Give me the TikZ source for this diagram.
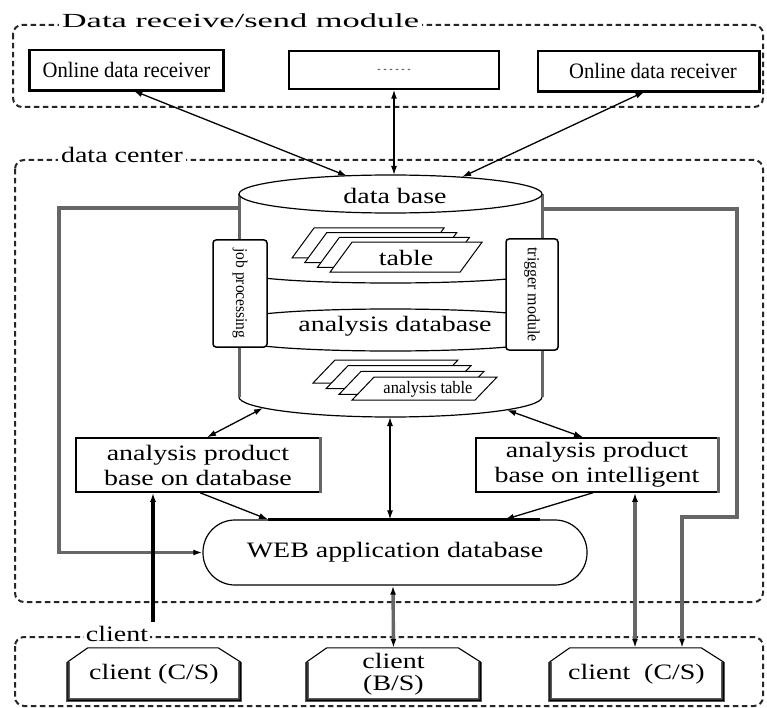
\documentclass[tikz,border=0pt]{standalone}
\usepackage{graphicx}
\usepackage{fontspec}
\setmainfont{Liberation Serif}
\newfontfamily\fmain[FakeStretch=1.27]{Liberation Serif}
\newfontfamily\fnar[FakeStretch=0.94]{Liberation Serif}
\usetikzlibrary{arrows.meta}
\newcommand{\chamf}[1]{%
  \draw[black!65, line width=3.5pt] ([yshift=-14pt]#1.north west) -- (#1.south west) -- (#1.south east) -- ([yshift=-14pt]#1.north east);
  \draw[line width=1.1pt] (#1.south west) -- ([yshift=-14pt]#1.north west) -- ([xshift=20pt]#1.north west) -- ([xshift=-22pt]#1.north east) -- ([yshift=-14pt]#1.north east) -- (#1.south east) -- cycle;}
\begin{document}
\begin{tikzpicture}[x=1pt,y=-1pt,
  >={Latex[length=9pt,width=6pt,color=black]},
  lab/.style={font=\fmain\fontsize{22}{25}\selectfont, align=center},
  dashbox/.style={draw=black!85, line width=2pt, dash pattern=on 5.5pt off 3.5pt, rounded corners=9pt},
  tbox/.style={draw, line width=1.5pt, fill=white, inner sep=0pt},
  arr/.style={line width=1.3pt, <->},
  arr1/.style={line width=1.3pt, ->},
  gline/.style={draw=black!60, line width=3.4pt},
  sheet/.style={draw, fill=white, line width=1pt}
]
\useasboundingbox (0,0) rectangle (767,708);

% frames
\draw[dashbox] (13,25) rectangle (763,107);
\draw[dashbox] (15,160) rectangle (763,602);
\draw[dashbox] (15,637) rectangle (763,706);
\node[fill=white, inner sep=3pt, anchor=base] (title) at (240.5,28) {\scalebox{1.72}[1]{\fontsize{20}{24}\selectfont Data receive/send module}};
\node[lab, fill=white, inner sep=3pt, anchor=base] (dc) at (122,163) {data center};
\node[lab, fill=white, inner xsep=2pt, inner ysep=1pt, anchor=base] (cl) at (117,641) {client};

% top boxes
\node[tbox, minimum width=193pt, minimum height=40pt, font=\fnar\fontsize{22}{25}\selectfont] (r1) at (126.5,70) {Online data receiver};
\node[tbox, minimum width=210pt, minimum height=38pt, text=black!60] (r2) at (394,70) {\scalebox{2}[1]{\fontsize{12}{14}\selectfont ......}};
\node[tbox, minimum width=221pt, minimum height=40pt, font=\fnar\fontsize{22}{25}\selectfont] (r3) at (648.5,71) {\hspace{9pt}Online data receiver};
\draw[line width=3pt] (r1.north west) -- (r1.south west) -- (r1.south east) -- (r1.north east);
\draw[line width=2.5pt] (r3.south west) -- (r3.south east) -- (r3.north east);

% cylinder
\coordinate (cylc) at (390.5,194);
\fill[white] (239,194) -- (239,397) arc[start angle=180,end angle=360,x radius=151.5pt,y radius=20pt] -- (542,194) -- cycle;
\draw[line width=1.2pt] (239,397) arc[start angle=180,end angle=360,x radius=151.5pt,y radius=20pt];
\draw[gline, line width=3pt] (239,194) -- (239,397);
\draw[gline, line width=3pt] (542,194) -- (542,397);
\draw[line width=1.2pt, fill=white] (cylc) ellipse [x radius=151.5pt, y radius=19pt];
\node[lab] (db) at (395,196) {data base};

% layers
\draw[line width=1.2pt] (239,272) arc[start angle=180,end angle=360,x radius=151.5pt,y radius=11pt];
\draw[line width=1.2pt] (239,320) arc[start angle=180,end angle=0,x radius=151.5pt,y radius=11pt];
\draw[line width=1.2pt] (239,340) arc[start angle=180,end angle=360,x radius=151.5pt,y radius=11pt];
\node[lab] (adb) at (395,326) {analysis database};

% table sheets
\foreach \i in {0,...,3}
  \draw[sheet] ({292+12.7*\i},{258+4.7*\i}) -- ++(130,0) -- ++(22,-30) -- ++(-130,0) -- cycle;
\node[lab] (tbl) at (406,258) {table};
\foreach \i in {0,...,3}
  \draw[sheet] ({313+13*\i},{383+5.7*\i}) -- ++(123,0) -- ++(22,-23) -- ++(-123,0) -- cycle;
\node[font=\fnar\fontsize{17.5}{20}\selectfont] (atbl) at (428,389) {analysis table};

% side boxes
\node[tbox, rounded corners=3pt, rotate=-90, minimum width=107pt, minimum height=54pt, font=\fnar\fontsize{16.5}{18}\selectfont] (jp) at (240,293.5) {job processing};
\node[tbox, rounded corners=3pt, rotate=-90, minimum width=111pt, minimum height=52pt, font=\fnar\fontsize{17}{19}\selectfont] (tm) at (532,294.5) {trigger module};

% product boxes
\node[tbox, minimum width=244pt, minimum height=54pt, lab] (pl) at (198,465) {analysis product\\base on database};
\node[tbox, minimum width=242pt, minimum height=54pt, lab] (pr) at (597,465) {analysis product\\base on intelligent};
\draw[black!60, line width=3pt] (pl.north east) -- (pl.south east);
\draw[black!60, line width=3pt] (pr.north east) -- (pr.south east);

% web
\node[draw, line width=1.2pt, rounded corners=32pt, minimum width=384pt, minimum height=65pt, lab, fill=white] (web) at (395,552.5) {WEB application database};
\draw[line width=3pt] ([xshift=-127pt]web.north) -- ([xshift=145pt]web.north);

% clients
\node[minimum width=172pt, minimum height=52pt, lab, inner sep=0pt] (c1) at (154,674) {client (C/S)};
\node[minimum width=173pt, minimum height=52pt, lab, inner sep=0pt] (c2) at (393.5,674) {client\\[-3pt](B/S)};
\node[minimum width=173pt, minimum height=52pt, lab, inner sep=0pt] (c3) at (636.5,674) {client\ \ (C/S)};
\chamf{c1}\chamf{c2}\chamf{c3}

% connector points
\coordinate (dbA) at (347,176);
\coordinate (dbB) at (394,175);
\coordinate (dbC) at (462,177);
\coordinate (dbD) at (263,408);
\coordinate (dbE) at (390,417);
\coordinate (dbF) at (507,410);
\coordinate (cL) at (239,208);
\coordinate (cR) at (542,209);
\coordinate (clup) at (153,622);

% connectors
\draw[arr] ([xshift=7pt]r1.south) -- (dbA);
\draw[arr] (r2.south) -- (dbB);
\draw[arr] ([xshift=-4pt]r3.south) -- (dbC);
\draw[arr] (dbD) -- ([xshift=9pt]pl.north);
\draw[arr] (dbF) -- ([xshift=-14pt]pr.north);
\draw[arr] (dbE) -- ([xshift=-5pt]web.north);
\draw[arr1] ([xshift=2pt]pl.south) -- ([xshift=-127pt]web.north);
\draw[arr1] ([xshift=-4pt]pr.south) -- ([xshift=110pt]web.north);
\draw[gline, ->] (cL) -- ++(-180,0) |- (web.west);
\draw[gline, ->] (cR) -- ++(195,0) -- ++(0,308) -| ([xshift=45.5pt]c3.north);
\draw[gline, <->] ([xshift=38pt]pr.south) -- ([xshift=-1.5pt]c3.north);
\draw[gline, <->] ([xshift=-2pt]web.south) -- (c2.north);
\draw[line width=3.2pt, ->] (clup) -- ([xshift=-45pt]pl.south);
\end{tikzpicture}
\end{document}
